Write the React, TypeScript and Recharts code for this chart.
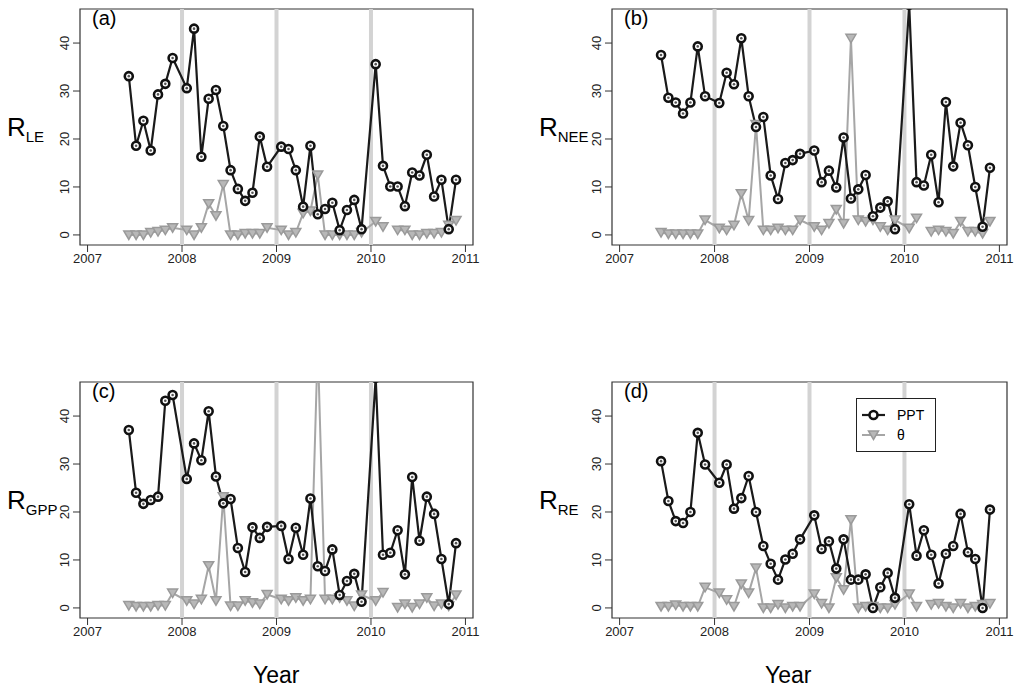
import React from "react";
import { LineChart, Line, XAxis, YAxis, ReferenceLine, ReferenceArea } from "recharts";

// first month index per year (2007 starts in June)
const years = [2007, 2008, 2009, 2010];
const firstMonth = [5, 0, 0, 0];

const pptLE = [33.1, 18.6, 23.8, 17.6, 29.3, 31.5, 36.9,
  30.6, 43, 16.3, 28.4, 30.2, 22.7, 13.5, 9.6, 7.1, 8.8, 20.5, 14.2,
  18.4, 17.9, 13.5, 5.9, 18.6, 4.3, 5.4, 6.7, 1, 5.2, 7.3, 1.2,
  35.6, 14.4, 10.1, 10.1, 6, 13, 12.4, 16.7, 8, 11.5, 1.2, 11.5];
const thetaLE = [0, 0, 0, 0.5, 0.7, 1, 1.5,
  1, 0, 1.5, 6.5, 4, 10.5, 0, 0, 0.3, 0.3, 0.3, 1.5,
  1, 0, 0.5, 4.5, 5, 12.5, 0, 0, 0, 0, 0, 0.5,
  2.8, 1.7, null, 1, 1, 0, 0, 0.3, 0.3, 0.5, 2, 3];

const pptNEE = [37.5, 28.6, 27.6, 25.3, 27.6, 39.3, 28.9,
  27.5, 33.8, 31.4, 41, 28.9, 22.5, 24.6, 12.4, 7.5, 15, 15.6, 16.9,
  17.6, 11, 13.4, 9.9, 20.3, 7.6, 9.5, 12.5, 3.9, 5.7, 7, 1.2,
  48, 11, 10.3, 16.7, 6.8, 27.7, 14.3, 23.4, 18.7, 10, 1.7, 14];
const thetaNEE = [0.5, 0.2, 0.2, 0.2, 0.2, 0.2, 3.1,
  1.4, 1, 2, 8.6, 3, 23, 1, 1, 1.4, 1, 1, 3.1,
  1.7, 1, 2.4, 5.3, 2.4, 41, 3.1, 2.8, 3.1, 1.7, 1, 3.1,
  1.4, 3.5, null, 0.7, 1, 0.7, 0.3, 2.8, 0.7, 0.7, 0.3, 2.8];

const pptGPP = [37.1, 24, 21.7, 22.5, 23.2, 43.2, 44.4,
  26.9, 34.3, 30.8, 41, 27.4, 21.8, 22.7, 12.5, 7.5, 16.8, 14.6, 16.9,
  17.1, 10.2, 16.7, 11.1, 22.8, 8.7, 7.7, 12.2, 2.7, 5.6, 7.1, 1.3,
  48, 11.1, 11.5, 16.2, 7, 27.3, 14, 23.2, 19.6, 10.2, 0.8, 13.5];
const thetaGPP = [0.5, 0.3, 0.3, 0.3, 0.5, 0.5, 3.1,
  1.5, 0.8, 1.8, 8.8, 1.5, 23.2, 0.4, 0.4, 1.5, 1.1, 0.8, 2.8,
  1.8, 1.5, 2.1, 1.5, 1.8, 55, 1.8, 1.8, 2.1, 1.5, 0.4, 2.7,
  1.5, 3.2, null, 0.1, 0.8, 0.1, 0.8, 2.1, 0.4, 0.8, 0.4, 2.7];

const pptRE = [30.6, 22.3, 18.1, 17.7, 20, 36.5, 29.9,
  26.1, 29.9, 20.7, 22.9, 27.5, 20, 12.9, 9.2, 5.9, 10.1, 11.3, 14.3,
  19.3, 12.3, 13.9, 8.2, 14.3, 5.9, 5.9, 7, 0, 4.3, 7.3, 2.1,
  21.6, 10.9, 16.2, 11.1, 5.1, 11.3, 12.9, 19.6, 11.6, 10.2, 0, 20.5];
const thetaRE = [0.3, 0.3, 0.6, 0.3, 0.3, 0.3, 4.3,
  3.1, 1.7, 0.3, 5, 3.1, 8.3, 0, 0, 0.7, 0, 0.3, 0.3,
  2.9, 0.9, 0, 6.3, 3.8, 18.4, 0, 0.3, 0.3, 0, 0, 0.7,
  2.9, 0.3, null, 0.7, 0.9, 0.3, 0, 0.9, 0, 0.3, 0.7, 0.9];

const xTicks = [2007, 2008, 2009, 2010, 2011];
const yTicks = [0, 10, 20, 30, 40];
const X_DOMAIN: [number, number] = [2006.92, 2011.08];
const Y_DOMAIN: [number, number] = [-2.1, 47.1];

const xs: number[] = [];
years.forEach((y, i) => {
  for (let m = firstMonth[i]; m < 12; m++) xs.push(y + 0.05 + m * 0.0773);
});

const build = (ppt: (number | null)[], theta: (number | null)[]) =>
  xs.map((x, i) => ({ x, ppt: ppt[i], theta: theta[i] }));

const FONT = "'Liberation Sans', Arial, sans-serif";

const Circle = (p: any) =>
  p.cx == null || p.value == null ? null : (
    <g>
      <circle cx={p.cx} cy={p.cy} r={4} fill="#fff" stroke="#111" strokeWidth={2.6} />
      <circle cx={p.cx} cy={p.cy} r={1.3} fill="#555" />
    </g>
  );

const Tri = (p: any) =>
  p.cx == null || p.value == null ? null : (
    <path
      d={`M${p.cx - 5},${p.cy - 4} L${p.cx + 5},${p.cy - 4} L${p.cx},${p.cy + 4.5} Z`}
      fill="#b8b8b8"
      stroke="#9a9a9a"
      strokeWidth={1.5}
    />
  );

const YTick = (p: any) => (
  <text
    x={p.x - 2}
    y={p.y}
    transform={`rotate(-90, ${p.x - 2}, ${p.y})`}
    textAnchor="middle"
    fontSize={13}
    fontFamily={FONT}
    fill="#222"
  >
    {p.payload.value}
  </text>
);

interface PanelProps {
  left: number;
  top: number;
  marginLeft: number;
  marginRight: number;
  tag: string;
  sub: string;
  ppt: (number | null)[];
  theta: (number | null)[];
  legend?: boolean;
}

function Panel({ left, top, marginLeft, marginRight, tag, sub, ppt, theta, legend }: PanelProps) {
  const data = build(ppt, theta);
  return (
    <div style={{ position: "absolute", left, top, width: 512, height: 347 }}>
      <LineChart
        width={512}
        height={347}
        data={data}
        margin={{ top: 9, right: marginRight, bottom: 72, left: marginLeft - 50 }}
      >
        <XAxis
          dataKey="x"
          type="number"
          domain={X_DOMAIN}
          ticks={xTicks}
          allowDataOverflow
          axisLine={false}
          tickSize={7}
          stroke="#333"
          height={30}
          tick={{ fontSize: 13, fontFamily: FONT, fill: "#222" }}
        />
        <YAxis
          type="number"
          domain={Y_DOMAIN}
          ticks={yTicks}
          allowDataOverflow
          axisLine={false}
          tickSize={7}
          stroke="#333"
          width={50}
          tick={<YTick />}
        />
        {[2008, 2009, 2010].map((v) => (
          <ReferenceLine key={v} x={v} stroke="#d3d3d3" strokeWidth={4} />
        ))}
        <ReferenceArea
          x1={X_DOMAIN[0]}
          x2={X_DOMAIN[1]}
          y1={Y_DOMAIN[0]}
          y2={Y_DOMAIN[1]}
          fill="none"
          stroke="#333"
          strokeWidth={1.2}
          fillOpacity={0}
        />
        <Line
          dataKey="theta"
          stroke="#a6a6a6"
          strokeWidth={2}
          dot={<Tri />}
          connectNulls={false}
          isAnimationActive={false}
        />
        <Line
          dataKey="ppt"
          stroke="#1a1a1a"
          strokeWidth={2.2}
          dot={<Circle />}
          isAnimationActive={false}
        />
      </LineChart>
      <div style={{ position: "absolute", left: marginLeft + 12, top: 7, fontSize: 20, fontFamily: FONT }}>{tag}</div>
      <div style={{ position: "absolute", left: marginLeft - 73, top: 112, fontSize: 26, fontFamily: FONT, whiteSpace: "nowrap" }}>
        R<sub style={{ fontSize: 15, verticalAlign: "-6px" }}>{sub}</sub>
      </div>
      {legend && (
        <div
          style={{
            position: "absolute",
            left: 344,
            top: 25,
            width: 78,
            height: 52,
            border: "1px solid #222",
            fontFamily: FONT,
            fontSize: 14,
            background: "#fff",
          }}
        >
          <svg width={80} height={52} style={{ position: "absolute", left: 0, top: 0 }}>
            <line x1={5} y1={16} x2={28} y2={16} stroke="#1a1a1a" strokeWidth={2.2} />
            <circle cx={16.5} cy={16} r={4} fill="#fff" stroke="#111" strokeWidth={2.6} />
            <line x1={5} y1={36} x2={28} y2={36} stroke="#a6a6a6" strokeWidth={2} />
            <path d="M11.5,32 L21.5,32 L16.5,40.5 Z" fill="#b8b8b8" stroke="#9a9a9a" strokeWidth={1.5} />
            <text x={40} y={21} fontSize={14} fontFamily={FONT}>PPT</text>
            <text x={40} y={41} fontSize={14} fontFamily={FONT}>θ</text>
          </svg>
        </div>
      )}
    </div>
  );
}

export default function App() {
  document.body.style.margin = "0";
  return (
    <div style={{ position: "relative", width: 1024, height: 694, background: "#fff" }}>
      <Panel left={0} top={0} marginLeft={80} marginRight={39} tag="(a)" sub="LE" ppt={pptLE} theta={thetaLE} />
      <Panel left={512} top={0} marginLeft={100} marginRight={17} tag="(b)" sub="NEE" ppt={pptNEE} theta={thetaNEE} />
      <Panel left={0} top={373} marginLeft={80} marginRight={39} tag="(c)" sub="GPP" ppt={pptGPP} theta={thetaGPP} />
      <Panel left={512} top={373} marginLeft={100} marginRight={17} tag="(d)" sub="RE" ppt={pptRE} theta={thetaRE} legend />
      <div style={{ position: "absolute", left: 253, top: 662, fontSize: 23, fontFamily: FONT }}>Year</div>
      <div style={{ position: "absolute", left: 765, top: 662, fontSize: 23, fontFamily: FONT }}>Year</div>
    </div>
  );
}
